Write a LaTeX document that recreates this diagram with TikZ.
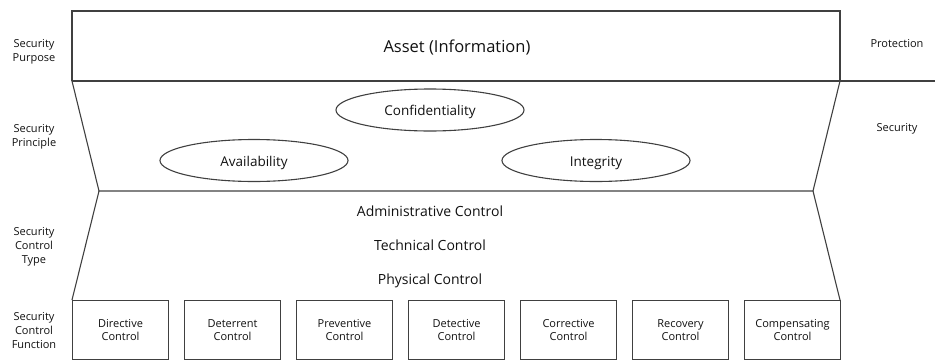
\documentclass[tikz,border=0pt]{standalone}
\usepackage{fontspec}
\setmainfont{Open Sans}
\usetikzlibrary{shapes.geometric}
\definecolor{ln}{HTML}{404040}
\definecolor{tx}{HTML}{111111}
\begin{document}
\begin{tikzpicture}[x=1pt,y=-1pt,
  lw/.style={draw=ln,line width=1.1pt,line join=miter},
  side/.style={text=tx,font=\fontsize{11}{14}\selectfont,align=center},
  oval/.style={lw,ellipse,minimum width=188pt,minimum height=42pt,inner sep=0pt,text=tx,font=\fontsize{13.5}{16}\selectfont,text height=14pt,text depth=3pt},
  ctype/.style={text=tx,font=\fontsize{14}{16}\selectfont},
  fbox/.style={lw,rectangle,minimum width=96pt,minimum height=59pt,inner sep=0pt,text=tx,font=\fontsize{11}{13.5}\selectfont,align=center}]
\useasboundingbox (0,0) rectangle (940,362);
% frame corners
\coordinate (t1) at (72,11);
\coordinate (t2) at (840,11);
\coordinate (m1) at (72,81);
\coordinate (m2) at (840,81);
\coordinate (hlend) at (935,81);
\coordinate (p1) at (99,191);
\coordinate (p2) at (813,191);
\coordinate (q1) at (72,300);
\coordinate (q2) at (840,300);
% top rectangle
\draw[lw] (m1) -- (t1) -- (t2) -- (m2);
\draw[lw] (m1) -- (hlend);
\node[text=tx,font=\fontsize{16.5}{19}\selectfont] (asset) at (457,47) {Asset (Information)};
% trapezoids
\draw[lw] (m1) -- (p1) -- (p2) -- (m2);
\draw[lw] (q1) -- (p1);
\draw[lw] (q2) -- (p2);
% ellipses
\node[oval] (conf) at (430,110) {Confidentiality};
\node[oval] (avail) at (254,160.5) {Availability};
\node[oval] (integ) at (596,160.5) {Integrity};
% control types
\node[ctype] (adm) at (430,211) {Administrative Control};
\node[ctype] (tech) at (430,245) {Technical Control};
\node[ctype] (phys) at (430,280.5) {Physical Control};
% function boxes
\node[fbox,anchor=north west] (b1) at (72,300) {Directive\\Control};
\node[fbox,anchor=north west] (b2) at (184,300) {Deterrent\\Control};
\node[fbox,anchor=north west] (b3) at (296,300) {Preventive\\Control};
\node[fbox,anchor=north west] (b4) at (408,300) {Detective\\Control};
\node[fbox,anchor=north west] (b5) at (520,300) {Corrective\\Control};
\node[fbox,anchor=north west] (b6) at (632,300) {Recovery\\Control};
\node[fbox,anchor=north west] (b7) at (744,300) {Compensating\\Control};
% side labels
\node[side] (l1) at (34,51.5) {Security\\Purpose};
\node[side] (l2) at (34,136.5) {Security\\Principle};
\node[side] (l3) at (34,247) {Security\\Control\\Type};
\node[side] (l4) at (34,331) {Security\\Control\\Function};
\node[side] (r1) at (897,44) {Protection};
\node[side] (r2) at (897,129) {Security};
\end{tikzpicture}
\end{document}
